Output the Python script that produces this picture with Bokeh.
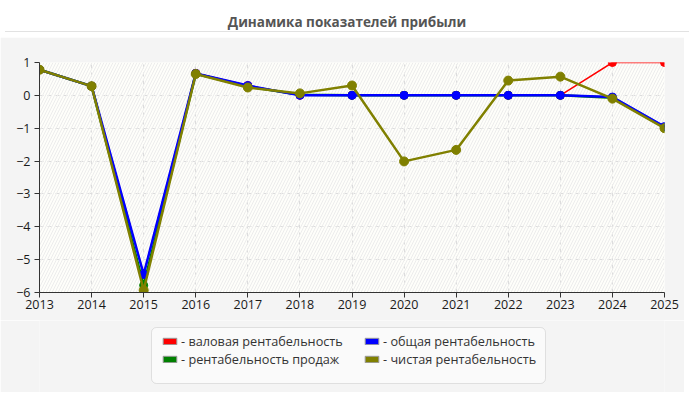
from bokeh.plotting import figure
from bokeh.models import Div, Legend, LegendItem, BoxAnnotation, FixedTicker
from bokeh.layouts import column
from bokeh.embed import file_html
from bokeh.resources import INLINE

# values
years = [2013, 2014, 2015, 2016, 2017, 2018, 2019, 2020, 2021, 2022, 2023, 2024, 2025]
gross = [0.78, 0.28, -5.45, 0.67, 0.30, 0.0, 0.0, 0.0, 0.0, 0.0, 0.0, 1.0, 1.0]
sales = [0.78, 0.28, -5.78, 0.66, 0.27, 0.02, 0.0, 0.0, 0.0, 0.0, 0.0, -0.07, -0.97]
total = [0.78, 0.28, -5.45, 0.67, 0.30, 0.0, 0.0, 0.0, 0.0, 0.0, 0.0, -0.05, -0.95]
net = [0.78, 0.28, -5.93, 0.65, 0.24, 0.06, 0.30, -2.01, -1.66, 0.45, 0.57, -0.10, -1.00]
y_ticks = [-6, -5, -4, -3, -2, -1, 0, 1]

names = {
    "gross": "- валовая рентабельность",
    "total": "- общая рентабельность",
    "sales": "- рентабельность продаж",
    "net": "- чистая рентабельность",
}
colors = {"gross": "red", "sales": "green", "total": "blue", "net": "olive"}

FONT = "Open Sans"
PANEL = "#f4f4f4"

title = Div(
    text="Динамика показателей прибыли",
    width=684, height=27,
    styles={"text-align": "center", "font-weight": "bold", "font-size": "13.5px",
            "color": "#555555", "font-family": FONT, "line-height": "24px",
            "padding-top": "5px",
            "background-color": "white", "border-bottom": "1px solid #e2e2e2",
            "box-sizing": "border-box"},
)

p = figure(width=684, height=283, x_range=(2013, 2025), y_range=(-6, 1),
           output_backend="svg", toolbar_location=None,
           min_border_left=39, min_border_right=20, min_border_top=25, min_border_bottom=28)
p.border_fill_color = PANEL
p.background_fill_color = "#fefefa"
p.outline_line_color = None

# diagonal hatch over the plot area
p.add_layout(BoxAnnotation(fill_alpha=0, line_color=None, hatch_pattern="/",
                           hatch_color="#ececec", hatch_scale=6, hatch_weight=1,
                           level="underlay"))

p.xaxis.ticker = FixedTicker(ticks=years)
p.yaxis.ticker = FixedTicker(ticks=y_ticks)
for ax in (p.xaxis, p.yaxis):
    ax.axis_line_color = "#333333"
    ax.major_tick_line_color = "#333333"
    ax.major_tick_out = 5
    ax.major_tick_in = 0
    ax.minor_tick_line_color = None
    ax.major_label_text_font = FONT
    ax.major_label_text_font_size = "12.5px"
    ax.major_label_text_color = "#1a1a1a"
p.xaxis.major_label_standoff = 2
p.yaxis.major_label_standoff = 4

p.grid.grid_line_color = "#dddddd"
p.grid.grid_line_dash = "4 4"

p.line(years, gross, line_color="red", line_width=1.5)
p.scatter(years, gross, size=8, color="red")
p.line(years, sales, line_color="green", line_width=2.5)
p.scatter(years, sales, size=8, color="green")
p.line(years, total, line_color="blue", line_width=2.5)
p.scatter(years, total, size=8, color="blue")
p.line(years, net, line_color="olive", line_width=2.5)
p.scatter(years, net, size=9, color="olive")

# legend strip under the chart (same side borders so the column aligns it);
# its ranges are in pixels of the strip
lf = figure(width=684, height=72, x_range=(0, 625), y_range=(0, 72),
            output_backend="svg", toolbar_location=None,
            x_axis_location=None, y_axis_location=None,
            min_border_left=39, min_border_right=20, min_border_top=0, min_border_bottom=0)
lf.border_fill_color = PANEL
lf.background_fill_color = PANEL
lf.outline_line_color = None
lf.grid.visible = False

box = BoxAnnotation(left=112, right=506, bottom=9, top=65,
                    fill_color="#fafafa", fill_alpha=1,
                    line_color="#aaaaaa", line_width=1)
try:
    box.border_radius = 5
except Exception:
    pass
lf.add_layout(box)

def make_legend(keys, x):
    items = []
    for key in keys:
        sw = lf.quad(left=[-20], right=[-10], bottom=[-20], top=[-10], fill_color=colors[key],
                     line_color="#999999", line_width=1)
        items.append(LegendItem(label=names[key], renderers=[sw]))
    return Legend(items=items, location=(x, 24),
                  glyph_width=17, glyph_height=8, label_standoff=3,
                  label_text_font=FONT, label_text_font_size="12.7px",
                  label_text_color="#333333", label_text_line_height=1.0,
                  label_height=18,
                  spacing=0, padding=10, margin=0,
                  background_fill_alpha=0, border_line_color=None)

lf.add_layout(make_legend(["gross", "sales"], 122), "center")
lf.add_layout(make_legend(["total", "net"], 324), "center")

layout = column(title, p, lf, spacing=0)
open("out.html", "w").write(file_html(layout, INLINE))
